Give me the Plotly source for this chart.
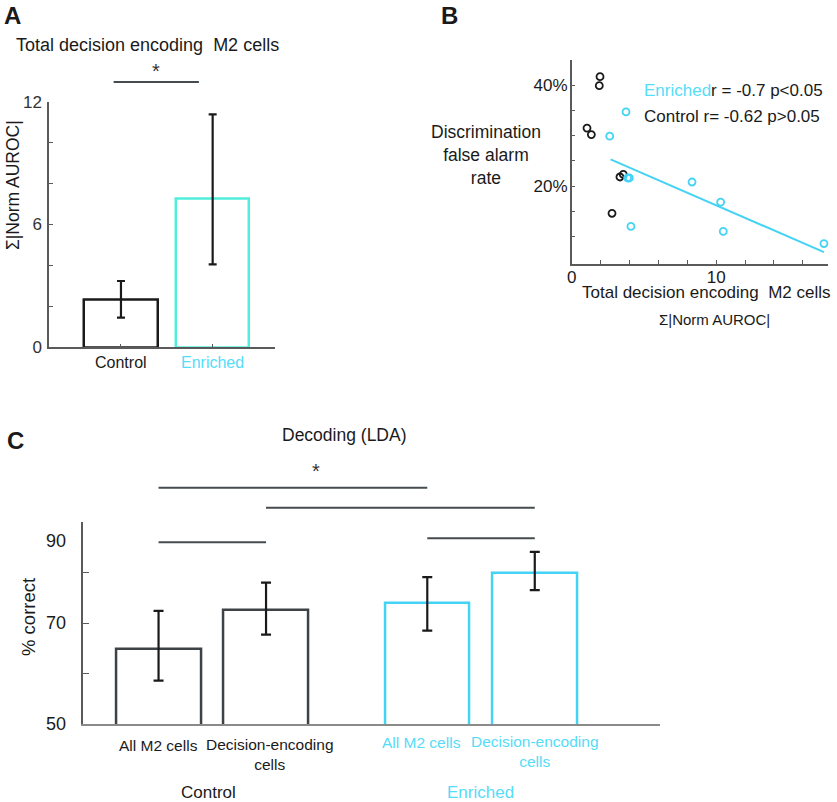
import plotly.graph_objects as go

W, H = 837, 802

# ---------------- data ----------------
# Panel A: total decision encoding (sum |norm AUROC|)
a_groups = ["Control", "Enriched"]
a_values = [2.35, 7.26]
a_err_hi = [3.24, 11.38]
a_err_lo = [1.45, 4.05]

# Panel B: scatter, false alarm rate (%) vs sum |norm AUROC|
b_ctrl_x = [1.96, 1.91, 1.06, 1.36, 3.34, 3.57, 2.79]
b_ctrl_y = [41.7, 39.9, 31.5, 30.2, 21.8, 22.3, 14.6]
b_enr_x = [3.76, 2.63, 3.87, 3.99, 8.33, 10.31, 10.49, 4.10, 17.46]
b_enr_y = [34.7, 29.9, 21.6, 21.6, 20.8, 16.8, 11.0, 12.0, 8.6]
b_fit_x = [2.69, 17.46]
b_fit_y = [25.3, 6.9]
b_y_ticks = [10, 15, 20, 25, 30, 35, 40, 45]
b_y_ticktext = ["", "", "20%", "", "", "", "40%", ""]
b_x_ticks = [0, 2, 4, 6, 8, 10, 12, 14, 16]
b_x_ticktext = ["0", "", "", "", "", "10", "", "", ""]

# Panel C: decoding (LDA) % correct
c_sub_labels = ["All M2 cells", "Decision-encoding<br>cells"]
c_ctrl_values = [64.8, 72.6]
c_ctrl_hi = [72.4, 78.0]
c_ctrl_lo = [58.6, 67.7]
c_enr_values = [74.0, 80.0]
c_enr_hi = [79.1, 84.1]
c_enr_lo = [68.5, 76.5]
c_y_ticks = [50, 60, 70, 80, 90]
c_y_ticktext = ["50", "", "70", "", ""]

# ---------------- style ----------------
FONT = "Liberation Sans, Arial, Helvetica, sans-serif"
BLACK = "#1a1a1a"
DARK = "#3c4246"
AX = "#5a5a5a"
TURQ = "#52eedd"
CYAN = "#45d3f5"
CYAN_TXT = "#55dcf8"


def px(x):
    return x / W


def py(y):
    return 1 - y / H


# axis geometry
A_xdom, A_xr = [px(49), px(275)], [-0.785, 1.68]
A_ydom, A_yr = [py(347.3), py(101.7)], [0, 12]
B_xdom, B_xr = [px(571.7), px(828)], [0, 17.74]
B_ydom, B_yr = [py(263.7), py(60)], [4.6, 45]
C_xdom, C_xr = [px(83.3), px(660)], [0.30, 5.665]
C_ydom, C_yr = [py(724), py(522)], [50, 90]


def d2p(dom, rng, v):
    return dom[0] + (v - rng[0]) / (rng[1] - rng[0]) * (dom[1] - dom[0])


a_x = list(range(len(a_groups)))
c_ctrl_x = [1, 2]
c_enr_x = [3.5, 4.5]

fig = go.Figure()

# Panel A bars
fig.add_trace(go.Bar(
    x=a_x, y=a_values, width=0.8, xaxis="x", yaxis="y",
    marker=dict(color="rgba(255,255,255,0)", line=dict(color=[BLACK, TURQ], width=2.5)),
    error_y=dict(type="data", symmetric=False,
                 array=[h - v for h, v in zip(a_err_hi, a_values)],
                 arrayminus=[v - l for v, l in zip(a_values, a_err_lo)],
                 color=BLACK, thickness=2.2, width=4),
    showlegend=False, hoverinfo="skip"))

# Panel B scatter
fig.add_trace(go.Scatter(
    x=b_fit_x, y=b_fit_y, mode="lines", xaxis="x2", yaxis="y2",
    line=dict(color=CYAN, width=2), showlegend=False, hoverinfo="skip"))
fig.add_trace(go.Scatter(
    x=b_ctrl_x, y=b_ctrl_y, mode="markers", xaxis="x2", yaxis="y2",
    marker=dict(symbol="circle-open", size=7, color=BLACK, line=dict(width=1.8)),
    showlegend=False, hoverinfo="skip", cliponaxis=False))
fig.add_trace(go.Scatter(
    x=b_enr_x, y=b_enr_y, mode="markers", xaxis="x2", yaxis="y2",
    marker=dict(symbol="circle-open", size=7, color=CYAN, line=dict(width=1.8)),
    showlegend=False, hoverinfo="skip", cliponaxis=False))

# Panel C bars
for xs, vals, hi, lo, col in [
    (c_ctrl_x, c_ctrl_values, c_ctrl_hi, c_ctrl_lo, DARK),
    (c_enr_x, c_enr_values, c_enr_hi, c_enr_lo, CYAN),
]:
    fig.add_trace(go.Bar(
        x=xs, y=vals, width=0.79, xaxis="x3", yaxis="y3",
        marker=dict(color="rgba(255,255,255,0)", line=dict(color=col, width=2.5)),
        error_y=dict(type="data", symmetric=False,
                     array=[h - v for h, v in zip(hi, vals)],
                     arrayminus=[v - l for v, l in zip(vals, lo)],
                     color=BLACK, thickness=2.2, width=5),
        showlegend=False, hoverinfo="skip"))

axis_common = dict(showgrid=False, zeroline=False, showline=True, linecolor=AX,
                   linewidth=1.5, ticks="inside", tickcolor=AX, automargin=False)

fig.update_layout(
    width=W, height=H, autosize=False, margin=dict(l=0, r=0, t=0, b=0, pad=0),
    paper_bgcolor="white", plot_bgcolor="rgba(0,0,0,0)",
    font=dict(family=FONT, color=BLACK),
    bargap=0, barmode="overlay",
    xaxis=dict(domain=A_xdom, range=A_xr, anchor="y", tickvals=a_x,
               showticklabels=False, ticklen=4, **axis_common),
    yaxis=dict(domain=A_ydom, range=A_yr, anchor="x", tickvals=[0, 2, 4, 6, 8, 10, 12],
               ticktext=["0", "", "", "6", "", "", "12"], ticklen=4,
               ticklabelstandoff=2, tickfont=dict(family=FONT, size=17, color="#333"),
               **axis_common),
    xaxis2=dict(domain=B_xdom, range=B_xr, anchor="y2", tickvals=b_x_ticks,
                ticktext=b_x_ticktext, ticklen=4, ticklabelstandoff=-3,
                tickfont=dict(family=FONT, size=17, color=BLACK), **axis_common),
    yaxis2=dict(domain=B_ydom, range=B_yr, anchor="x2", tickvals=b_y_ticks,
                ticktext=b_y_ticktext, ticklen=4, ticklabelstandoff=-1,
                tickfont=dict(family=FONT, size=17, color=BLACK), **axis_common),
    xaxis3=dict(domain=C_xdom, range=C_xr, anchor="y3", showticklabels=False,
                ticks="", showgrid=False, zeroline=False, showline=True,
                linecolor="#8a8a8a", linewidth=1.5, automargin=False),
    yaxis3=dict(domain=C_ydom, range=C_yr, anchor="x3", tickvals=c_y_ticks,
                ticktext=c_y_ticktext, ticklen=6, ticklabelstandoff=12,
                tickfont=dict(family=FONT, size=18, color=BLACK), **axis_common),
)

# significance lines
def hline(x0, x1, y, xdom, xr, ydom, yr):
    fig.add_shape(type="line", xref="paper", yref="paper",
                  x0=d2p(xdom, xr, x0), x1=d2p(xdom, xr, x1),
                  y0=d2p(ydom, yr, y), y1=d2p(ydom, yr, y),
                  line=dict(color="#454b4f", width=2))

hline(-0.08, 0.85, 12.96, A_xdom, A_xr, A_ydom, A_yr)
hline(c_ctrl_x[0], c_enr_x[0], 96.8, C_xdom, C_xr, C_ydom, C_yr)
hline(c_ctrl_x[1], c_enr_x[1], 92.8, C_xdom, C_xr, C_ydom, C_yr)
hline(c_ctrl_x[0], c_ctrl_x[1], 86.0, C_xdom, C_xr, C_ydom, C_yr)
hline(c_enr_x[0], c_enr_x[1], 86.8, C_xdom, C_xr, C_ydom, C_yr)


def ann(text, x, y, size, color=BLACK, xanchor="center", angle=0, bold=False):
    fig.add_annotation(text=f"<b>{text}</b>" if bold else text,
                       x=px(x), y=py(y), xref="paper", yref="paper",
                       xanchor=xanchor, yanchor="middle", showarrow=False,
                       textangle=angle, font=dict(family=FONT, size=size, color=color))

# Panel A texts
ann("A", 12, 15, 24, bold=True)
ann("Total decision encoding  M2 cells", 147.5, 45, 18)
ann("*", 156, 71, 20, color="#333")
ann("Σ|Norm AUROC|", 13, 185, 17.5, angle=-90)
ann(a_groups[0], 121, 362, 16)
ann(a_groups[1], 212.7, 362, 16, color=CYAN_TXT)

# Panel B texts
ann("B", 449, 15, 24, bold=True)
ann("Discrimination<br>false alarm<br>rate", 486, 155, 17.5)
ann(f'<span style="color:{CYAN_TXT}">Enriched</span>r = -0.7 p&lt;0.05', 641.5, 91, 17, xanchor="left")
ann("Control r= -0.62 p&gt;0.05", 641.5, 117, 17, xanchor="left")
ann("Total decision encoding  M2 cells", 706, 292, 17)
ann("Σ|Norm AUROC|", 714, 319, 15)

# Panel C texts
ann("C", 15, 440, 24, bold=True)
ann("Decoding (LDA)", 344, 435, 17.5)
ann("*", 316, 471, 20, color="#333")
ann("% correct", 28, 617, 18.5, angle=-90)
ann("90", 68, 541, 18, xanchor="right")
ann(c_sub_labels[0], 158, 745, 15.5)
ann(c_sub_labels[1], 270, 754, 15.5)
ann(c_sub_labels[0], 421, 742, 15.5, color=CYAN_TXT)
ann(c_sub_labels[1], 535, 751, 15.5, color=CYAN_TXT)
ann("Control", 208, 792, 17)
ann("Enriched", 480, 792, 17, color=CYAN_TXT)

fig.write_html("out.html", config={"displayModeBar": False},
               post_script="document.body.style.margin='0';document.body.style.overflow='hidden';")
